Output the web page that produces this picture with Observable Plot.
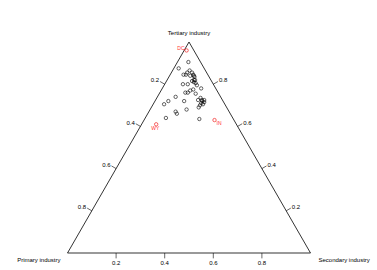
<!DOCTYPE html>
<html><head><meta charset="utf-8">
<script src="https://cdn.jsdelivr.net/npm/d3@7"></script>
<script src="https://cdn.jsdelivr.net/npm/@observablehq/plot@0.6"></script>
<style>body{margin:0;background:#fff} svg{font-family:"Liberation Sans",Arial,sans-serif}</style>
</head><body><div id="chart"></div>
<script>
// Ternary composition of each state's economy (fractions)
const primary   = [0.03,0.05,0.105,0.065,0.10,0.09,0.08,0.075,0.06,0.08,
                   0.075,0.125,0.105,0.07,0.07,0.095,0.11,0.135,0.125,0.06,
                   0.095,0.185,0.085,0.085,0.075,0.10,0.08,0.095,0.09,0.105,
                   0.115,0.16,0.225,0.25,0.22,0.22,0.17,0.275,0.14,0.33,
                   0.08,0.06,0.06,0.07,0.065,0.085,0.06];
const secondary = [0.01,0.045,0.02,0.07,0.055,0.065,0.065,0.085,0.10,0.105,
                   0.115,0.075,0.095,0.125,0.135,0.13,0.12,0.105,0.115,0.16,
                   0.15,0.075,0.18,0.19,0.20,0.175,0.205,0.195,0.205,0.195,
                   0.195,0.12,0.055,0.045,0.11,0.12,0.15,0.085,0.225,0.06,
                   0.29,0.095,0.105,0.11,0.115,0.195,0.085];
const tertiary  = [0.96,0.905,0.875,0.865,0.845,0.845,0.855,0.84,0.84,0.815,
                   0.81,0.80,0.80,0.805,0.795,0.775,0.77,0.76,0.76,0.78,
                   0.755,0.74,0.735,0.725,0.725,0.725,0.715,0.71,0.705,0.70,
                   0.69,0.72,0.72,0.705,0.67,0.66,0.68,0.64,0.635,0.61,
                   0.63,0.845,0.835,0.82,0.82,0.72,0.855];
const labels    = ["DC","","","","","","","","","",
                   "","","","","","","","","","",
                   "","","","","","","","","","",
                   "","","","","","","","","","WY",
                   "IN","","","","","",""];
const axisNames = ["Primary industry","Secondary industry","Tertiary industry"];
const tickValues = [0.2,0.4,0.6,0.8];

const H = Math.sqrt(3)/2;
const pts = primary.map((p,i)=>{
  const s = secondary[i], t = tertiary[i], sum = p+s+t;
  return {x:(s+t/2)/sum, y:(t/sum)*H, label:labels[i]};
});
const L = 0.022;
const bottomT = tickValues.map(v=>({x1:v,y1:0,x2:v,y2:-L,label:String(v)}));
const leftT = tickValues.map(v=>{const x=(1-v)/2,y=(1-v)*H;return {x1:x,y1:y,x2:x-L*0.866,y2:y+L*0.5,label:String(v)};});
const rightT = tickValues.map(v=>{const x=1-v/2,y=v*H;return {x1:x,y1:y,x2:x+L*0.866,y2:y+L*0.5,label:String(v)};});
const sideEdges = [{x1:0,y1:0,x2:0.5,y2:H},{x1:1,y1:0,x2:0.5,y2:H}];
const baseEdge = [{x1:0,y1:0,x2:1,y2:0}];
const vertices = [
  {x:0,y:0,name:axisNames[0],anchor:"end",dx:-7,dy:7},
  {x:1,y:0,name:axisNames[1],anchor:"start",dx:8,dy:7},
  {x:0.5,y:H,name:axisNames[2],anchor:"middle",dx:0,dy:-9}
];
const fs = 6;
const chart = Plot.plot({
  width:377, height:270,
  marginLeft:67, marginRight:67, marginTop:41.5, marginBottom:17.5,
  x:{domain:[0,1], axis:null},
  y:{domain:[0,H], axis:null},
  style:{background:"#fff", fontFamily:"Liberation Sans, Arial, sans-serif"},
  marks:[
    Plot.link(baseEdge,{x1:"x1",y1:"y1",x2:"x2",y2:"y2",stroke:"#999",strokeWidth:2}),
    Plot.link(sideEdges,{x1:"x1",y1:"y1",x2:"x2",y2:"y2",stroke:"#000",strokeWidth:0.8}),
    Plot.link([...bottomT,...leftT,...rightT],{x1:"x1",y1:"y1",x2:"x2",y2:"y2",stroke:"#000",strokeWidth:0.6}),
    Plot.text(bottomT,{x:"x2",y:"y2",text:"label",dy:4.5,fontSize:fs,fill:"#000"}),
    Plot.text(leftT,{x:"x2",y:"y2",text:"label",textAnchor:"end",dx:-1,dy:-1,fontSize:fs,fill:"#000"}),
    Plot.text(rightT,{x:"x2",y:"y2",text:"label",textAnchor:"start",dx:1,dy:-1,fontSize:fs,fill:"#000"}),
    Plot.text(vertices.filter(d=>d.anchor==="end"),{x:"x",y:"y",text:"name",textAnchor:"end",dx:-7,dy:7,fontSize:fs,fill:"#000"}),
    Plot.text(vertices.filter(d=>d.anchor==="start"),{x:"x",y:"y",text:"name",textAnchor:"start",dx:8,dy:7,fontSize:fs,fill:"#000"}),
    Plot.text(vertices.filter(d=>d.anchor==="middle"),{x:"x",y:"y",text:"name",dy:-9,fontSize:fs,fill:"#000"}),
    Plot.dot(pts.filter(d=>!d.label),{x:"x",y:"y",r:1.7,stroke:"#000",strokeWidth:0.6,fill:"none"}),
    Plot.dot(pts.filter(d=>d.label),{x:"x",y:"y",r:1.7,stroke:"#e00",strokeWidth:0.6,fill:"none"}),
    Plot.text(pts.filter(d=>d.label==="DC"),{x:"x",y:"y",text:"label",textAnchor:"end",dx:-2,dy:-2,fontSize:5,fill:"#f33"}),
    Plot.text(pts.filter(d=>d.label==="WY"),{x:"x",y:"y",text:"label",dx:-1,dy:4,fontSize:5,fill:"#f33"}),
    Plot.text(pts.filter(d=>d.label==="IN"),{x:"x",y:"y",text:"label",textAnchor:"start",dx:2,dy:3,fontSize:5,fill:"#f33"})
  ]
});
document.getElementById("chart").appendChild(chart);
</script></body></html>
